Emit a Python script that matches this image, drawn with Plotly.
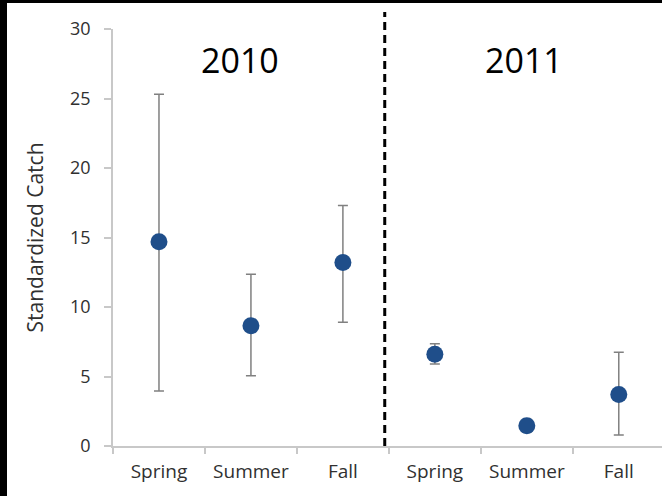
import plotly.graph_objects as go

seasons = ["Spring", "Summer", "Fall", "Spring", "Summer", "Fall"]
catch_mean = [14.7, 8.65, 13.2, 6.6, 1.45, 3.7]
upper = [25.3, 12.35, 17.3, 7.35, 1.9, 6.75]
lower = [3.95, 5.05, 8.9, 5.9, 1.0, 0.8]
years = ["2010", "2011"]
year_label_x = [0.88, 3.97]
divider_x = 2.455

xpos = list(range(len(seasons)))
err_plus = [u - m for u, m in zip(upper, catch_mean)]
err_minus = [m - l for m, l in zip(catch_mean, lower)]

fig = go.Figure()
fig.add_trace(go.Scatter(
    x=xpos, y=catch_mean, mode="markers",
    marker=dict(size=17, color="#1F4E8A"),
    error_y=dict(type="data", symmetric=False, array=err_plus, arrayminus=err_minus,
                 color="#808080", thickness=1.5, width=5),
    showlegend=False,
))

W, H = 662, 496
L, R, T, B = 113, 0, 29, 50
pw, ph = W - L - R, H - T - B

def px_x(p):
    return (p - L) / pw

def px_y(p):
    return (H - B - p) / ph

shapes = [
    dict(type="rect", xref="paper", yref="paper", x0=px_x(0), x1=px_x(7),
         y0=px_y(H), y1=px_y(0), fillcolor="black", line=dict(width=0), layer="above"),
    dict(type="rect", xref="paper", yref="paper", x0=px_x(0), x1=px_x(W),
         y0=px_y(3), y1=px_y(0), fillcolor="black", line=dict(width=0), layer="above"),
    dict(type="line", xref="x", yref="paper", x0=divider_x, x1=divider_x,
         y0=0, y1=px_y(12), line=dict(color="black", width=3, dash="8px,5px")),
]

annotations = [
    dict(x=xv, y=27.8, xref="x", yref="y", text=t, showarrow=False,
         font=dict(family="Open Sans", size=34, color="black"))
    for xv, t in zip(year_label_x, years)
]

fig.update_layout(
    width=W, height=H,
    margin=dict(l=L, r=R, t=T, b=B, pad=0),
    paper_bgcolor="white", plot_bgcolor="white",
    shapes=shapes, annotations=annotations,
    font=dict(family="Open Sans", color="#404040"),
    xaxis=dict(
        range=[-0.5, 5.47], tickmode="array", tickvals=xpos, ticktext=seasons,
        ticks="", showgrid=False, zeroline=False,
        showline=True, linecolor="#C8C8C8", linewidth=1.5,
        tickfont=dict(size=19, color="#303030"),
        ticklabelstandoff=7,
        minor=dict(ticks="outside", tick0=-0.5, dtick=1, ticklen=6,
                   tickcolor="#C8C8C8", tickwidth=1.5, showgrid=False),
    ),
    yaxis=dict(
        range=[0, 30], tickmode="linear", tick0=0, dtick=5,
        ticks="outside", ticklen=7, tickcolor="#C8C8C8", tickwidth=1.5,
        showgrid=False, zeroline=False,
        showline=True, linecolor="#C8C8C8", linewidth=1.5,
        tickfont=dict(size=18, color="#303030"),
        ticklabelstandoff=10,
        title=dict(text="Standardized Catch", font=dict(size=21, color="#303030"), standoff=21),
    ),
)

fig.write_html(
    "out.html",
    config={"displayModeBar": False},
    post_script=("document.body.style.margin='0';document.body.style.overflow='hidden';"
                 "document.documentElement.style.overflow='hidden';"),
)
